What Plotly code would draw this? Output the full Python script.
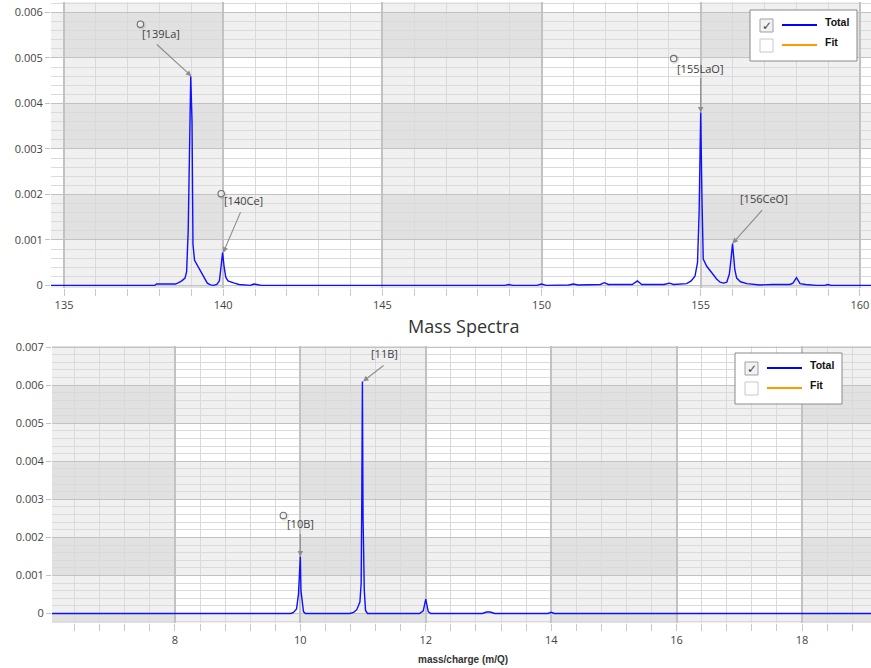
import plotly.graph_objects as go

# ---------------- data ----------------
TOP_MZ = [134.59, 137.85, 137.9, 138.5, 138.6, 138.7, 138.8, 138.85, 138.9, 138.95, 138.98,
          139.02, 139.05, 139.1, 139.2, 139.3, 139.4, 139.5, 139.6, 139.7, 139.8, 139.88,
          139.93, 139.98, 140.03, 140.08, 140.15, 140.25, 140.35, 140.5, 140.6, 140.85,
          140.92, 140.97, 141.05, 141.2, 148.85, 148.97, 149.1, 149.85, 150.0, 150.15,
          150.85, 151.0, 151.15, 151.85, 151.97, 152.1, 152.85, 153.01, 153.15, 153.85,
          154.02, 154.15, 154.56, 154.7, 154.82, 154.9, 154.95, 155.0, 155.04, 155.08,
          155.19, 155.3, 155.39, 155.5, 155.61, 155.72, 155.82, 155.9, 155.95, 156.0,
          156.04, 156.07, 156.13, 156.25, 156.45, 156.86, 157.27, 157.8, 157.9, 158.01,
          158.12, 158.3, 158.64, 158.9, 158.99, 159.1, 160.35]
TOP_INT = [0, 0, 0.00003, 0.00003, 0.00006, 0.0001, 0.00016, 0.0003, 0.0012, 0.0039, 0.0046,
           0.0036, 0.0009, 0.00055, 0.00042, 0.00028, 0.00015, 0.00005, 0.00001, 0, 0.00002,
           0.0001, 0.0004, 0.00072, 0.0004, 0.00018, 0.0001, 0.00007, 0.00005, 0.00002,
           0.00001, 0, 0.00002, 0.00003, 0.00002, 0, 0, 0.00002, 0, 0, 0.00003, 0,
           0.00001, 0.00003, 0.00001, 0.00002, 0.00006, 0.00002, 0.00002, 0.0001, 0.00002,
           0.00002, 0.00005, 0.00002, 0.00004, 0.0001, 0.0002, 0.0005, 0.0016, 0.0038,
           0.0019, 0.00058, 0.00042, 0.00032, 0.00023, 0.00014, 0.00007, 0.00005, 0.00007,
           0.00025, 0.00056, 0.00092, 0.0006, 0.00035, 0.00016, 0.00008, 0.00004, 0.00001,
           0.00002, 0.00002, 0.00005, 0.00017, 0.00004, 0.00002, 0, 0, 0.00002, 0, 0]

BOT_MZ = [6.04, 9.85, 9.89, 9.94, 9.97, 9.985, 10.0, 10.01, 10.03, 10.05, 10.08, 10.79,
          10.85, 10.9, 10.95, 10.97, 10.98, 10.99, 11.0, 11.01, 11.02, 11.04, 11.07, 11.9,
          11.96, 12.0, 12.04, 12.08, 12.9, 12.97, 13.03, 13.1, 13.95, 14.0, 14.05, 14.98,
          15.0, 15.02, 15.98, 16.0, 16.02, 16.98, 17.0, 17.02, 19.1]
BOT_INT = [0, 0, 0.00003, 0.00012, 0.0005, 0.00125, 0.0015, 0.0006, 0.00034, 0.00005, 0,
           0, 0.00003, 0.0001, 0.0003, 0.0008, 0.003, 0.0061, 0.00255, 0.0012, 0.0006,
           0.00008, 0, 0, 0.00007, 0.00038, 0.00005, 0, 0, 0.00004, 0.00004, 0, 0,
           0.00003, 0, 0, 0.00001, 0, 0, 0.00001, 0, 0, 0.00001, 0, 0]

TOP_LABELS = ["[139La]", "[140Ce]", "[155LaO]", "[156CeO]"]
TOP_LABEL_X = [139, 140, 155, 156]
TOP_LABEL_Y = [0.0046, 0.00072, 0.0038, 0.00092]
BOT_LABELS = ["[10B]", "[11B]"]
BOT_LABEL_X = [10, 11]
BOT_LABEL_Y = [0.0015, 0.0061]

LEGEND_NAMES = ["Total", "Fit"]
LEGEND_CHECKED = [True, False]
LEGEND_COLORS = ["#0000ff", "#ff9900"]

TITLE = "Mass Spectra"
X_TITLE = "mass/charge (m/Q)"

# ---------------- layout helpers ----------------
W, H = 871, 668
FONT = "Open Sans, Liberation Sans, sans-serif"


def px(x):
    return x / W


def py(y):
    return 1 - y / H


fig = go.Figure()
fig.add_trace(go.Scatter(x=TOP_MZ, y=TOP_INT, mode="lines", name="Total",
                         line=dict(color="#1010ff", width=1.4), xaxis="x", yaxis="y",
                         showlegend=False, hoverinfo="x+y"))
fig.add_trace(go.Scatter(x=BOT_MZ, y=BOT_INT, mode="lines", name="Total",
                         line=dict(color="#1010ff", width=1.4), xaxis="x2", yaxis="y2",
                         showlegend=False, hoverinfo="x+y"))

MAJ = "#c2c2c2"
MIN = "#dadada"
TICKC = "#c8c8c8"
tickfont = dict(family=FONT, size=11, color="#444444")

TOP_XR = [134.59, 160.35]
TOP_YR = [-0.000057, 0.00623]
BOT_XR = [6.04, 19.1]
BOT_YR = [-0.00025, 0.00703]


def xaxis(rng, dtick, minor, dom):
    return dict(range=rng, domain=dom, dtick=dtick, tick0=0, showgrid=True, gridcolor=MAJ,
                gridwidth=1.5, zeroline=False, showline=False, ticks="outside", ticklen=7,
                tickcolor=TICKC, tickwidth=1, tickfont=tickfont, automargin=False,
                minor=dict(dtick=minor, showgrid=True, gridcolor=MIN, gridwidth=1.3,
                           ticks="outside", ticklen=7, tickcolor=TICKC, tickwidth=1),
                fixedrange=True)


def yaxis(rng, dom, anchor):
    return dict(range=rng, domain=dom, dtick=0.001, tick0=0, showgrid=True, gridcolor=MAJ,
                gridwidth=1.2, zeroline=False, showline=False, ticks="outside", ticklen=5,
                tickcolor=MAJ, tickwidth=1.2, tickfont=tickfont, exponentformat="none",
                automargin=False, anchor=anchor,
                minor=dict(dtick=0.0002, showgrid=True, gridcolor=MIN, gridwidth=1.3),
                fixedrange=True)


fig.update_layout(
    width=W, height=H, margin=dict(l=0, r=0, t=0, b=0),
    paper_bgcolor="white", plot_bgcolor="white", showlegend=False,
    xaxis=xaxis(TOP_XR, 5, 1, [px(51), 1]),
    yaxis=yaxis(TOP_YR, [py(288), py(2)], "x"),
    xaxis2=xaxis(BOT_XR, 2, 0.4, [px(52), 1]),
    yaxis2=yaxis(BOT_YR, [py(623), py(346)], "x2"),
)
fig.layout.xaxis.anchor = "y"
fig.layout.xaxis2.anchor = "y2"

shapes = []
annots = []
SHADE = "rgba(0,0,0,0.059)"


def bands(xr, yr, xd, yd, xref, yref, xstart, ystart):
    # alternating column bands (by major x interval) and row bands (by major y interval)
    v = xstart
    while v < xr[1]:
        shapes.append(dict(type="rect", xref=xref, yref=yref + " domain", x0=max(v, xr[0]),
                           x1=min(v + xd, xr[1]), y0=0, y1=1, fillcolor=SHADE,
                           line=dict(width=0), layer="below"))
        v += 2 * xd
    v = ystart
    while v < yr[1]:
        shapes.append(dict(type="rect", xref=xref + " domain", yref=yref, x0=0, x1=1,
                           y0=max(v, yr[0]), y1=min(v + yd, yr[1]), fillcolor=SHADE,
                           line=dict(width=0), layer="below"))
        v += 2 * yd


bands(TOP_XR, TOP_YR, 5, 0.001, "x", "y", 135, -0.001)
bands(BOT_XR, BOT_YR, 2, 0.001, "x2", "y2", 6, -0.001)

# annotation styling (pixel offsets from the peak): text, arrow tail, circle handle
TOP_STYLE = [dict(t=(-30, 43), a=(-36, 33), c=(-51, 52)),
             dict(t=(20, 52), a=(18, 42), c=(-2, 59)),
             dict(t=(-1, 44), a=(0, 36), c=(-27, 54)),
             dict(t=(31, 45), a=(31, 35), c=None)]
BOT_STYLE = [dict(t=(0, 33), a=(0, 24), c=(-17, 41)),
             dict(t=(21, 28), a=(22, 17), c=None)]


def labels(names, xs, ys, styles, xref, yref):
    for n, x, y, s in zip(names, xs, ys, styles):
        annots.append(dict(x=x, y=y, xref=xref, yref=yref, text="", showarrow=True,
                           ax=s["a"][0], ay=-s["a"][1], arrowhead=2, arrowsize=1,
                           arrowwidth=1.1, arrowcolor="#8c8c8c", standoff=0))
        annots.append(dict(x=x, y=y, xref=xref, yref=yref, text=n, showarrow=False,
                           xshift=s["t"][0], yshift=s["t"][1],
                           font=dict(family=FONT, size=11, color="#404040")))
        if s["c"]:
            cx, cy = s["c"]
            shapes.append(dict(type="circle", xref=xref, yref=yref, xsizemode="pixel",
                               ysizemode="pixel", xanchor=x, yanchor=y, x0=cx - 3.5,
                               x1=cx + 5.5, y0=cy - 5.5, y1=cy + 3.5,
                               fillcolor="rgba(0,0,0,0.10)", line=dict(width=0)))
            shapes.append(dict(type="circle", xref=xref, yref=yref, xsizemode="pixel",
                               ysizemode="pixel", xanchor=x, yanchor=y, x0=cx - 3.2,
                               x1=cx + 3.2, y0=cy - 3.2, y1=cy + 3.2,
                               fillcolor="rgba(255,255,255,0.6)",
                               line=dict(color="#6e6e6e", width=1.1)))


labels(TOP_LABELS, TOP_LABEL_X, TOP_LABEL_Y, TOP_STYLE, "x", "y")
labels(BOT_LABELS, BOT_LABEL_X, BOT_LABEL_Y, BOT_STYLE, "x2", "y2")


def legend(x0, y0):
    shapes.append(dict(type="rect", xref="paper", yref="paper", x0=px(x0), x1=px(x0 + 107),
                       y0=py(y0 + 51), y1=py(y0), fillcolor="white",
                       line=dict(color="#8a8a8a", width=1)))
    for i, (n, chk, col) in enumerate(zip(LEGEND_NAMES, LEGEND_CHECKED, LEGEND_COLORS)):
        cy = y0 + 9 + 20 * i
        shapes.append(dict(type="rect", xref="paper", yref="paper", x0=px(x0 + 10),
                           x1=px(x0 + 23), y0=py(cy + 13), y1=py(cy),
                           fillcolor="#f2f2f2" if chk else "white",
                           line=dict(color="#a0a0a0" if chk else "#c8c8c8", width=1)))
        if chk:
            annots.append(dict(x=px(x0 + 16.5), y=py(cy + 6.5), xref="paper", yref="paper",
                               text="✓", showarrow=False, xanchor="center", yanchor="middle",
                               font=dict(family="DejaVu Sans", size=12, color="#444444")))
        shapes.append(dict(type="line", xref="paper", yref="paper", x0=px(x0 + 32),
                           x1=px(x0 + 67), y0=py(cy + 6), y1=py(cy + 6),
                           line=dict(color=col, width=2)))
        annots.append(dict(x=px(x0 + 73), y=py(cy + 3), xref="paper", yref="paper",
                           text="<b>%s</b>" % n, showarrow=False, xanchor="left",
                           yanchor="middle",
                           font=dict(family="Liberation Sans", size=10.5, color="#111111")))


legend(750, 10)
legend(735, 353)

annots.append(dict(x=px(463), y=py(326), xref="paper", yref="paper", text=TITLE,
                   showarrow=False, xanchor="center", yanchor="middle",
                   font=dict(family=FONT, size=18, color="#333333")))
annots.append(dict(x=px(463), y=py(659), xref="paper", yref="paper",
                   text="<b>%s</b>" % X_TITLE, showarrow=False, xanchor="center",
                   yanchor="middle",
                   font=dict(family="Liberation Sans", size=10, color="#333333")))

fig.update_layout(shapes=shapes, annotations=annots)
fig.write_html("out.html", config={"displayModeBar": False},
               post_script="document.body.style.margin='0';document.body.style.overflow='hidden';")
